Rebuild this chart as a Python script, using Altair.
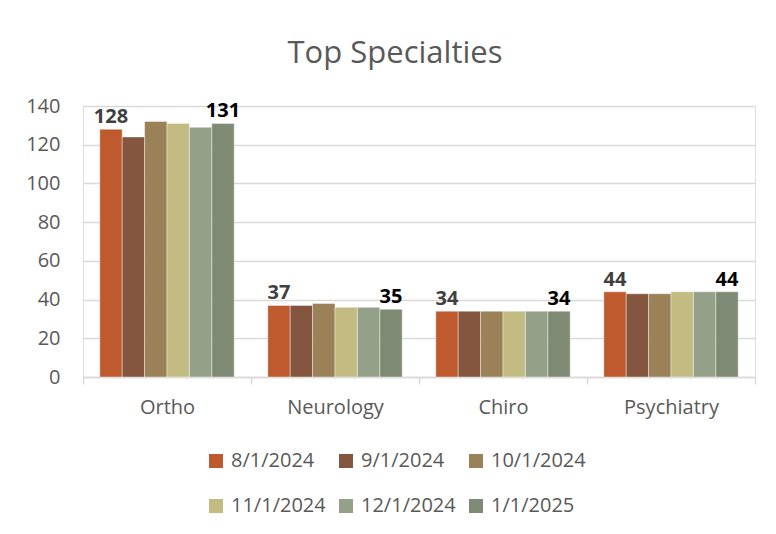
import altair as alt
import pandas as pd

categories = ["Ortho", "Neurology", "Chiro", "Psychiatry"]
series = ["8/1/2024", "9/1/2024", "10/1/2024", "11/1/2024", "12/1/2024", "1/1/2025"]
ortho = [128, 124, 132, 131, 129, 131]
neurology = [37, 37, 38, 36, 36, 35]
chiro = [34, 34, 34, 34, 34, 34]
psychiatry = [44, 43, 43, 44, 44, 44]
colors = ["#BE5A2E", "#845640", "#9A8157", "#C2BC82", "#95A088", "#7F8B74"]
y_ticks = [0, 20, 40, 60, 80, 100, 120, 140]

rows = []
for cat, vals in zip(categories, [ortho, neurology, chiro, psychiatry]):
    for s, v in zip(series, vals):
        rows.append({"Specialty": cat, "Month": s, "Count": v})
df = pd.DataFrame(rows)
labeled = [series[0], series[-1]]

x = alt.X(
    "Specialty:N", sort=categories,
    scale=alt.Scale(paddingInner=0, paddingOuter=0),
    axis=alt.Axis(title=None, labelAngle=0, tickBand="extent", ticks=True, tickSize=7,
                  tickColor="#d9d9d9", tickWidth=1.5, domainColor="#d9d9d9", domainWidth=1.5,
                  grid=False, labelFontSize=20, labelColor="#595959", labelPadding=13,
                  labelFont="Open Sans"),
)
xo = alt.XOffset("Month:N", sort=series, scale=alt.Scale(paddingInner=0, paddingOuter=0.75))
y = alt.Y(
    "Count:Q", scale=alt.Scale(domain=[0, 140], nice=False),
    axis=alt.Axis(values=y_ticks, title=None, ticks=False, tickSize=0, domain=False, grid=True,
                  gridColor="#d9d9d9", gridWidth=1.3, labelFontSize=20, labelColor="#595959",
                  labelPadding=23, labelFont="Open Sans"),
)

bars = alt.Chart(df).mark_bar(stroke="#ffffff", strokeWidth=0.8, strokeOpacity=0.5).encode(
    x=x, xOffset=xo, y=y,
    color=alt.Color(
        "Month:N", sort=series, scale=alt.Scale(domain=series, range=colors),
        legend=alt.Legend(title=None, orient="none", legendX=123, legendY=345, columns=3,
                          direction="horizontal",
                          symbolType="square", symbolSize=196, symbolStrokeWidth=0,
                          labelFontSize=20, labelColor="#595959", labelOffset=5,
                          columnPadding=10, rowPadding=25, padding=0, labelFont="Open Sans"),
    ),
)

text = alt.Chart(df).transform_filter(
    alt.FieldOneOfPredicate(field="Month", oneOf=labeled)
).mark_text(baseline="alphabetic", dy=-6, fontSize=20, fontWeight="bold", font="Open Sans").encode(
    x=x, xOffset=xo, y=y,
    text=alt.Text("Count:Q"),
    color=alt.condition(alt.datum.Month == series[0], alt.value("#404040"), alt.value("#000000")),
)

chart = alt.layer(bars, text).properties(
    width=672, height=271,
    autosize=alt.AutoSizeParams(type="none"),
    padding={"left": 75, "top": 98, "right": 13, "bottom": 149},
    background="#ffffff",
    title=alt.TitleParams("Top Specialties", fontSize=31, font="Open Sans", fontWeight="normal",
                          color="#595959", anchor="middle", frame="group", offset=2,
                          baseline="alphabetic", dx=-24),
).configure_view(stroke=None).configure(font="Open Sans")

chart.save("out.html", embed_options={"renderer": "svg", "actions": False})
